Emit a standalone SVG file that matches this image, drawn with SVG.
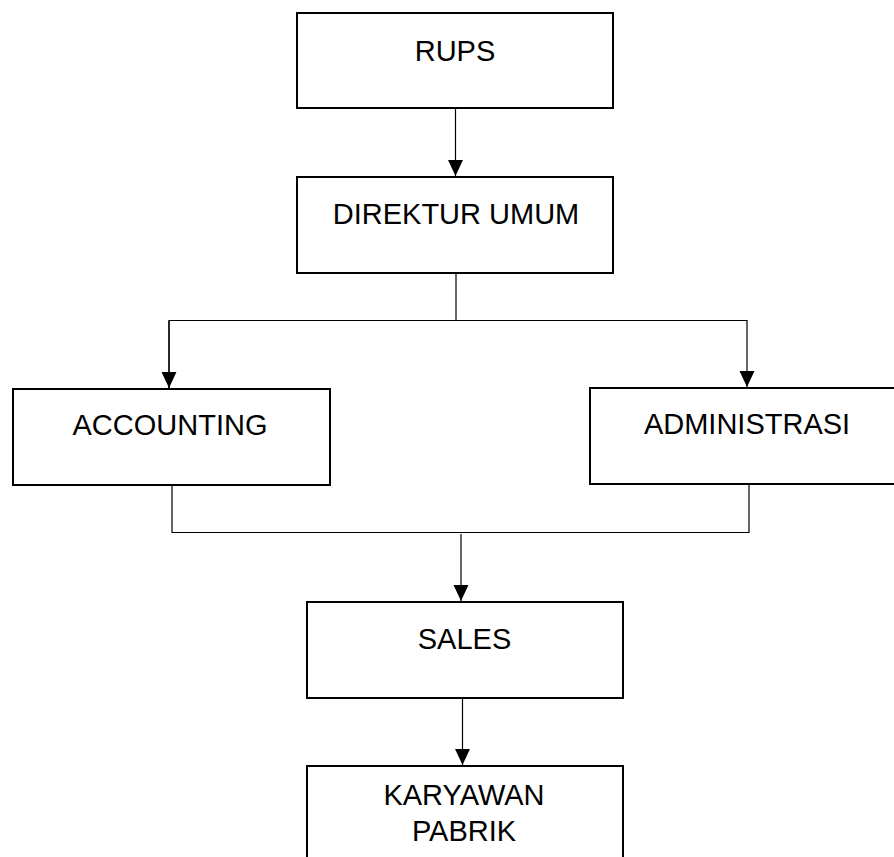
<svg xmlns="http://www.w3.org/2000/svg" width="894" height="857" viewBox="0 0 894 857">
<style>
.box{fill:#fff;stroke:#000;stroke-width:2}
.lbl{font-family:"Liberation Sans",Arial,sans-serif;font-size:29px;fill:#000;text-anchor:middle}
.con{fill:none;stroke:#000;stroke-width:1.2}
</style>
<defs>
<marker id="arr" markerUnits="userSpaceOnUse" markerWidth="16" markerHeight="16" viewBox="0 0 15 14" refX="15" refY="7" orient="auto">
<path d="M0,0 L15,7 L0,14 Z" fill="#000"/>
</marker>
</defs>
<rect width="894" height="857" fill="#fff"/>
<g id="connectors">
<line class="con" x1="455.5" y1="109" x2="455.5" y2="176" marker-end="url(#arr)"/>
<polyline class="con" points="456,273 456,320.5"/>
<polyline class="con" points="169,388 169,320.5 747,320.5 747,387" marker-end="url(#arr)"/>
<line class="con" x1="169" y1="320.5" x2="169" y2="388" marker-end="url(#arr)"/>
<polyline class="con" points="172,485 172,532.5 749,532.5 749,484"/>
<line class="con" x1="461" y1="534" x2="461" y2="601" marker-end="url(#arr)"/>
<line class="con" x1="462.5" y1="698" x2="462.5" y2="765" marker-end="url(#arr)"/>
</g>
<g id="rups"><rect class="box" x="297" y="13" width="316" height="95"/><text class="lbl" x="455" y="61">RUPS</text></g>
<g id="direktur"><rect class="box" x="297" y="177" width="316" height="96"/><text class="lbl" x="456" y="224">DIREKTUR UMUM</text></g>
<g id="accounting"><rect class="box" x="13" y="389" width="317" height="96"/><text class="lbl" x="170" y="435">ACCOUNTING</text></g>
<g id="administrasi"><rect class="box" x="590" y="388" width="310" height="96"/><text class="lbl" x="747" y="434">ADMINISTRASI</text></g>
<g id="sales"><rect class="box" x="307" y="602" width="316" height="96"/><text class="lbl" x="464.5" y="649">SALES</text></g>
<g id="karyawan"><rect class="box" x="307" y="766" width="316" height="110"/><text class="lbl" x="464" y="805">KARYAWAN</text><text class="lbl" x="464" y="841">PABRIK</text></g>
</svg>
